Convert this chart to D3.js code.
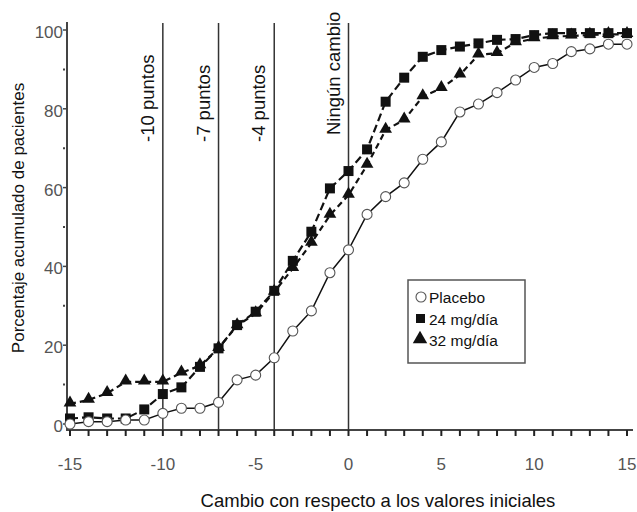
<!DOCTYPE html>
<html>
<head>
<meta charset="utf-8">
<script src="https://cdn.jsdelivr.net/npm/d3@7"></script>
<style>
  body { margin: 0; background: #fff; }
  svg { display: block; font-family: Arial, "Liberation Sans", sans-serif; }
</style>
</head>
<body>
<script>
// cambio con respecto a los valores iniciales, de -15 a 15
var cambios = d3.range(-15, 16);

var placebo = [0, 0.6, 0.6, 1, 1, 2.7, 4, 4, 5.5, 11.2, 12.4, 16.8, 23.6, 28.7, 38.4, 44.2,
    53.2, 57.7, 61.2, 67.2, 71.6, 79.2, 81.2, 84.1, 87.3, 90.5, 91.5, 94.5, 95.2, 96.4, 96.4];
var mg24 = [1.4, 1.7, 1.4, 1.4, 3.7, 7.6, 9.3, 14.5, 19.2, 25.1, 28.5, 33.8, 41.4, 48.8, 59.8, 64.2,
    69.7, 81.8, 87.9, 93.2, 94.9, 95.8, 96.6, 97.5, 97.7, 98.7, 99.2, 99.2, 99.2, 99.2, 99.2];
var mg32 = [5.1, 6.1, 7.8, 10.7, 10.7, 10.7, 13, 14.8, 19.2, 25, 28, 33.5, 39.5, 45.9, 53, 58.1,
    65.7, 74.6, 77.2, 83.1, 85.2, 88.6, 93.7, 94.1, 96.8, 97.8, 98.3, 98.5, 98.7, 98.9, 98.9];

var refLineas = [-10, -7, -4, 0];
var refTextos = ["-10 puntos", "-7 puntos", "-4 puntos", "Ningún cambio"];

var xTicks = [-15, -10, -5, 0, 5, 10, 15];
var yTicks = [0, 20, 40, 60, 80, 100];

var leyenda = ["Placebo", "24 mg/día", "32 mg/día"];

var w = 637, h = 512;

var svg = d3.select("body").append("svg")
    .attr("width", w)
    .attr("height", h);

var x = d3.scaleLinear().domain([-15, 15]).range([70, 627]);
var y = d3.scaleLinear().domain([0, 100]).range([424, 30]);

// ejes
var axisColor = "#444";
var yAxis = svg.append("g").attr("transform", "translate(67,0)");
yAxis.append("line")
    .attr("x1", 0).attr("x2", 0)
    .attr("y1", 22).attr("y2", 431)
    .attr("stroke", axisColor).attr("stroke-width", 2);
yAxis.selectAll("line.major")
    .data(yTicks)
    .enter().append("line")
    .attr("class", "major")
    .attr("x1", -4).attr("x2", 0)
    .attr("y1", function(d) { return y(d); })
    .attr("y2", function(d) { return y(d); })
    .attr("stroke", axisColor).attr("stroke-width", 1.5);
yAxis.selectAll("line.minor")
    .data([10, 30, 50, 70, 90])
    .enter().append("line")
    .attr("class", "minor")
    .attr("x1", -4).attr("x2", -2)
    .attr("y1", function(d) { return y(d); })
    .attr("y2", function(d) { return y(d); })
    .attr("stroke", axisColor).attr("stroke-width", 2);
yAxis.selectAll("text")
    .data(yTicks)
    .enter().append("text")
    .attr("x", -4)
    .attr("y", function(d) { return y(d) + 8; })
    .attr("text-anchor", "end")
    .attr("font-size", "17px")
    .attr("fill", "#555")
    .text(function(d) { return d; });

var xAxis = svg.append("g").attr("transform", "translate(0,430)");
xAxis.append("line")
    .attr("x1", 66).attr("x2", 633)
    .attr("y1", 0).attr("y2", 0)
    .attr("stroke", axisColor).attr("stroke-width", 2);
xAxis.selectAll("line.tick")
    .data(cambios)
    .enter().append("line")
    .attr("class", "tick")
    .attr("x1", function(d) { return x(d); })
    .attr("x2", function(d) { return x(d); })
    .attr("y1", 0).attr("y2", 6)
    .attr("stroke", "#222").attr("stroke-width", 2);
xAxis.selectAll("text")
    .data(xTicks)
    .enter().append("text")
    .attr("x", function(d) { return x(d); })
    .attr("y", 40)
    .attr("text-anchor", "middle")
    .attr("font-size", "17px")
    .attr("fill", "#555")
    .text(function(d) { return d; });

// lineas de referencia
svg.selectAll("line.ref")
    .data(refLineas)
    .enter().append("line")
    .attr("class", "ref")
    .attr("x1", function(d) { return x(d); })
    .attr("x2", function(d) { return x(d); })
    .attr("y1", 23).attr("y2", 430)
    .attr("stroke", "#333").attr("stroke-width", 1.5);
svg.selectAll("text.ref")
    .data(refLineas)
    .enter().append("text")
    .attr("class", "ref")
    .attr("transform", function(d, i) {
        var yEnd = i == 3 ? 135 : 142;
        return "translate(" + (x(d) - 9) + "," + yEnd + ") rotate(-90)";
    })
    .attr("font-size", "18.5px")
    .attr("fill", "#111")
    .text(function(d, i) { return refTextos[i]; });

// series
var line = d3.line()
    .x(function(d, i) { return x(cambios[i]); })
    .y(function(d) { return y(d); });

svg.append("path").datum(mg32)
    .attr("d", line).attr("fill", "none")
    .attr("stroke", "#111").attr("stroke-width", 2.2)
    .attr("stroke-dasharray", "6,4");
svg.append("path").datum(mg24)
    .attr("d", line).attr("fill", "none")
    .attr("stroke", "#111").attr("stroke-width", 2.2)
    .attr("stroke-dasharray", "8,4");
svg.append("path").datum(placebo)
    .attr("d", line).attr("fill", "none")
    .attr("stroke", "#111").attr("stroke-width", 1.5);

var tri = d3.symbol().type(d3.symbolTriangle).size(70);
svg.selectAll("path.tri")
    .data(mg32)
    .enter().append("path")
    .attr("class", "tri")
    .attr("d", tri)
    .attr("transform", function(d, i) {
        return "translate(" + x(cambios[i]) + "," + (y(d) - 1) + ")";
    })
    .attr("fill", "#111");

svg.selectAll("rect.sq")
    .data(mg24)
    .enter().append("rect")
    .attr("class", "sq")
    .attr("x", function(d, i) { return x(cambios[i]) - 5; })
    .attr("y", function(d) { return y(d) - 5; })
    .attr("width", 10).attr("height", 10)
    .attr("fill", "#111");

svg.selectAll("circle.pl")
    .data(placebo)
    .enter().append("circle")
    .attr("class", "pl")
    .attr("cx", function(d, i) { return x(cambios[i]); })
    .attr("cy", function(d) { return y(d); })
    .attr("r", 5)
    .attr("fill", "#fff")
    .attr("stroke", "#555").attr("stroke-width", 1.1);

// leyenda
var leg = svg.append("g");
leg.append("rect")
    .attr("x", 408).attr("y", 280)
    .attr("width", 117).attr("height", 83)
    .attr("fill", "#fff")
    .attr("stroke", "#555").attr("stroke-width", 1.5);
leg.append("circle")
    .attr("cx", 421).attr("cy", 297).attr("r", 5)
    .attr("fill", "#fff").attr("stroke", "#555").attr("stroke-width", 1.1);
leg.append("rect")
    .attr("x", 416).attr("y", 314).attr("width", 9).attr("height", 9)
    .attr("fill", "#111");
leg.append("path")
    .attr("d", d3.symbol().type(d3.symbolTriangle).size(90))
    .attr("transform", "translate(420,339)")
    .attr("fill", "#111");
leg.selectAll("text")
    .data(leyenda)
    .enter().append("text")
    .attr("x", 429)
    .attr("y", function(d, i) { return 303 + i * 21.5; })
    .attr("font-size", "15.5px")
    .attr("fill", "#111")
    .text(function(d) { return d; });

// titulos de ejes
svg.append("text")
    .attr("x", 378).attr("y", 507)
    .attr("text-anchor", "middle")
    .attr("font-size", "18.5px")
    .attr("fill", "#111")
    .text("Cambio con respecto a los valores iniciales");
svg.append("text")
    .attr("transform", "translate(24,218) rotate(-90)")
    .attr("text-anchor", "middle")
    .attr("font-size", "17px")
    .attr("fill", "#111")
    .text("Porcentaje acumulado de pacientes");
</script>
</body>
</html>
